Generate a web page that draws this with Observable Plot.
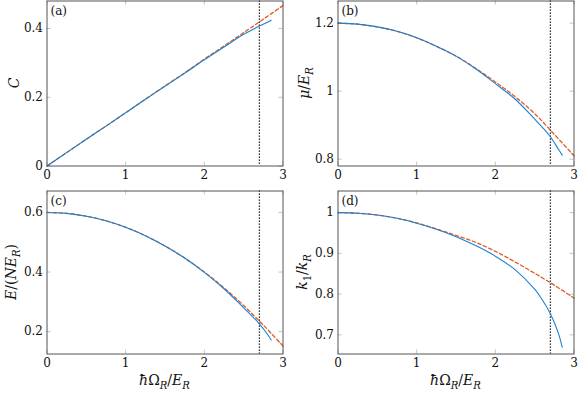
<!DOCTYPE html>
<html><head><meta charset="utf-8">
<script src="https://cdn.jsdelivr.net/npm/d3@7"></script>
<script src="https://cdn.jsdelivr.net/npm/@observablehq/plot@0.6"></script>
<style>
body{margin:0;background:#fff;}
#fig{position:relative;width:582px;height:393px;}
#fig svg{position:absolute;}
</style></head><body><div id="fig"></div>
<script>
// ---- data ----
const xBlue = [0,0.25,0.5,0.75,1,1.25,1.5,1.75,2,2.25,2.5,2.6,2.7,2.8,2.85];
const xRed  = [0,0.25,0.5,0.75,1,1.25,1.5,1.75,2,2.25,2.5,2.75,3];

const aBlue = [0,0.039,0.078,0.116,0.155,0.194,0.232,0.270,0.309,0.346,0.383,0.395,0.407,0.418,0.424];
const aRed  = [0,0.039,0.078,0.116,0.155,0.194,0.233,0.271,0.311,0.349,0.388,0.427,0.467];

const bBlue = [1.2,1.197,1.189,1.176,1.157,1.132,1.103,1.066,1.022,0.977,0.918,0.893,0.866,0.830,0.812];
const bRed  = [1.2,1.197,1.189,1.176,1.157,1.132,1.103,1.067,1.027,0.984,0.934,0.873,0.81];

const cBlue = [0.6,0.597,0.5875,0.572,0.55,0.522,0.4875,0.447,0.399,0.344,0.280,0.254,0.226,0.192,0.172];
const cRed  = [0.6,0.597,0.5875,0.572,0.55,0.522,0.4875,0.447,0.4,0.347,0.2875,0.222,0.152];

const dBlue = [1,0.9985,0.994,0.986,0.974,0.959,0.941,0.919,0.893,0.86,0.812,0.785,0.752,0.705,0.67];
const dRed  = [1,0.9985,0.994,0.986,0.975,0.96,0.944,0.927,0.905,0.879,0.851,0.822,0.79];

const criticalOmega = [2.7];
const xTicks = [0,1,2,3];
const aTicks = [0,0.2,0.4];
const bTicks = [0.8,1,1.2];
const cTicks = [0.2,0.4,0.6];
const dTicks = [0.7,0.8,0.9,1];
const panelLetters = ["(a)","(b)","(c)","(d)"];

const BLUE = "#1a82d2", RED = "#e05a24";
const FONT = "DejaVu Serif";

function toRows(xs, ys){ return xs.map((x,i)=>({x, y: ys[i]})); }

function panel({left, top, height, mb, yDomain, yTicks, blue, red, letter, ylab, xlab, ylabX}){
  const W = 291, mt = 0.5, ml = 46.5, mr = 8.5;
  const innerH = height - mt - mb, innerW = W - ml - mr;
  const tickStroke = "#c4c4c4";
  const svg = Plot.plot({
    width: W, height,
    marginLeft: ml, marginRight: mr, marginTop: mt, marginBottom: mb,
    style: {background: "transparent", overflow: "visible"},
    x: {domain: [0,3]},
    y: {domain: yDomain},
    marks: [
      Plot.tickX(xTicks, {x: d=>d, insetTop: innerH-4, stroke: tickStroke}),
      Plot.tickX(xTicks, {x: d=>d, insetBottom: innerH-4, stroke: tickStroke}),
      Plot.tickY(yTicks, {y: d=>d, insetRight: innerW-4, stroke: tickStroke}),
      Plot.tickY(yTicks, {y: d=>d, insetLeft: innerW-4, stroke: tickStroke}),
      Plot.axisX({ticks: xTicks, tickSize: 0, tickPadding: 4, fontSize: 12, fill: "#111", tickFormat: d=>String(d), label: null}),
      Plot.axisY({ticks: yTicks, tickSize: 0, tickPadding: 4, fontSize: 12, fill: "#111", tickFormat: d=>String(d), label: null}),
      Plot.ruleX(criticalOmega, {x: d=>d, stroke: "#000", strokeWidth: 1.3, strokeDasharray: "1.2,1.8"}),
      Plot.line(toRows(xRed, red), {x:"x", y:"y", stroke: RED, strokeWidth: 1.3, strokeDasharray: "3.5,2.5", curve: "catmull-rom"}),
      Plot.line(toRows(xBlue, blue), {x:"x", y:"y", stroke: BLUE, strokeWidth: 1.1, curve: "catmull-rom"}),
      Plot.frame({stroke: "#555", strokeWidth: 1}),
      Plot.text([letter], {text: d=>d, frameAnchor: "top-left", dx: 3.5, dy: 5, lineAnchor: "top", textAnchor: "start", fontSize: 12, fill: "#111"})
    ]
  });
  svg.setAttribute("font-family", FONT);
  svg.style.left = left + "px";
  svg.style.top = top + "px";
  const s = d3.select(svg);
  const cy = mt + innerH/2;
  addLabel(s, ylab, ylabX, cy, true, 14);
  if (xlab) addLabel(s, xlab, ml + innerW/2, height - 8, false, 14);
  document.getElementById("fig").appendChild(svg);
}

// parts: [text, kind] kind: i italic, r roman, si sub italic, sr sub roman
function addLabel(s, parts, x, y, rot, size){
  const t = s.append("text")
    .attr("transform", rot ? `translate(${x},${y}) rotate(-90)` : `translate(${x},${y})`)
    .attr("text-anchor", "middle")
    .attr("font-family", FONT)
    .attr("font-size", size)
    .attr("fill", "#111");
  let inSub = false;
  const shift = size*0.28;
  for (const [txt, kind] of parts){
    const sub = kind.startsWith("s");
    const ts = t.append("tspan").text(txt)
      .attr("font-style", kind.endsWith("i") ? "italic" : "normal")
      .attr("font-size", sub ? size*0.72 : size);
    if (sub && !inSub) ts.attr("dy", shift);
    if (!sub && inSub) ts.attr("dy", -shift);
    inSub = sub;
  }
}

const xLabel = [["ħ","i"],["Ω","r"],["R","si"],["/","r"],["E","i"],["R","si"]];

panel({left:0, top:0, height:190, mb:24.5, yDomain:[0,0.48], yTicks:aTicks, blue:aBlue, red:aRed, letter:panelLetters[0],
  ylab:[["C","i"]], ylabX:18.5});
panel({left:291, top:0, height:190, mb:24.5, yDomain:[0.78,1.265], yTicks:bTicks, blue:bBlue, red:bRed, letter:panelLetters[1],
  ylab:[["μ","i"],["/","r"],["E","i"],["R","si"]], ylabX:18});
panel({left:0, top:190, height:203, mb:39.5, yDomain:[0.125,0.672], yTicks:cTicks, blue:cBlue, red:cRed, letter:panelLetters[2],
  ylab:[["E","i"],["/(","r"],["NE","i"],["R","si"],[")","r"]], ylabX:16, xlab:xLabel});
panel({left:291, top:190, height:203, mb:39.5, yDomain:[0.653,1.053], yTicks:dTicks, blue:dBlue, red:dRed, letter:panelLetters[3],
  ylab:[["k","i"],["1","sr"],["/","r"],["k","i"],["R","si"]], ylabX:16, xlab:xLabel});
</script>
</body></html>
